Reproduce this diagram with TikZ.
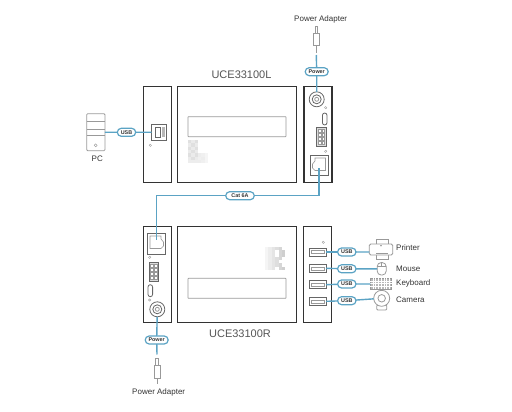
\documentclass[tikz,border=0pt]{standalone}
\usepackage{fontspec}
\setmainfont{Liberation Sans}
\usetikzlibrary{positioning, shapes.misc}

\begin{document}
\begin{tikzpicture}[
  x=1pt, y=-1pt,
  panel/.style={draw=cdark, line width=1.1pt, inner sep=0pt, outer sep=0pt},
  part/.style={draw=cpart, line width=0.8pt, fill=white, inner sep=0pt, outer sep=0pt},
  dev/.style={draw=cgrey, line width=0.8pt, fill=white, inner sep=0pt, outer sep=0pt},
  led/.style={draw=cgrey, line width=0.4pt, circle, minimum size=2.4pt, inner sep=0pt},
  slot/.style={draw=cgrey, line width=0.7pt, rounded corners=0.5pt, minimum width=98pt,
               minimum height=20pt, inner sep=0pt},
  wire/.style={draw=cblue, line width=1.4pt},
  lead/.style={draw=cgrey, line width=0.8pt},
  pill/.style={rounded rectangle, draw=cblue, line width=1.2pt, fill=white, font=\fontsize{5.4}{5.4}\selectfont\bfseries,
               text=cdark, minimum height=8pt, inner sep=0pt, outer sep=0pt},
  lbl/.style={font=\fontsize{8}{9}\selectfont, text=cdark, inner sep=0pt},
  model/.style={font=\fontsize{11}{12}\selectfont, text=cmodel, inner sep=0pt},
]
\definecolor{cdark}{HTML}{333333}
\definecolor{cpart}{HTML}{666666}
\definecolor{cgrey}{HTML}{999999}
\definecolor{cblue}{HTML}{5BA3C4}
\definecolor{cmodel}{HTML}{555555}
\useasboundingbox (0,0) rectangle (512,412);
% upper unit
\node[panel, minimum width=28pt, minimum height=96pt] (lleft) at (157.3,134.2) {};
\node[panel, minimum width=119pt, minimum height=96pt] (lmid) at (237.2,134.2) {};
\node[panel, minimum width=28pt, minimum height=96pt] (lright) at (318,134.2) {};
\node[model] (lname) at (241.5,75) {UCE33100L};
\node[slot] (lslot) at (237,126.7) {};
\foreach \i/\j/\s in {0/0/12,1/0/8,2/0/12,0/1/8,1/1/12,2/1/8,0/2/12,1/2/8,2/2/12,
                      0/3/8,1/3/12,2/3/8,0/4/12,1/4/8,2/4/12,3/4/7,4/4/6,5/4/4,
                      0/5/8,1/5/12,2/5/8,3/5/6,4/5/7,5/5/4,0/6/7,1/6/7,2/6/7,3/6/7,4/6/6,5/6/4}
  \fill[black!\s] (188+3.3*\i,140+3.3*\j) rectangle ++(3.3,3.3);
\node[part, minimum width=15pt, minimum height=15.5pt] (usbb) at (159.2,132.2) {};
\draw[part] (155.5,127.5) rectangle (160.5,137);
\fill[cgrey!70] (161.5,127.5) rectangle (165,137);
\node[led] (lledl) at (150.3,145.3) {};
\node[part, circle, minimum size=15pt] (ljack) at (316.7,99.3) {};
\node[part, circle, minimum size=9pt] (ljackb) at (316.7,99.3) {};
\node[part, circle, minimum size=4pt, draw=cgrey] (ljackc) at (316.7,99.3) {};
\node[led] (lleda) at (325.7,107.7) {};
\node[part, rounded rectangle, rotate=90, minimum width=12pt, minimum height=4.6pt] (lsw) at (324.7,119) {};
\node[part, fill=cgrey!35, minimum width=10.4pt, minimum height=19pt] (lterm) at (321.5,137.2) {};
\foreach \i in {0,1} \foreach \j in {0,...,3}
  \draw[cgrey, fill=white, line width=0.4pt] (318+3.8*\i,129.5+4*\j) rectangle ++(2.8,3);
\node[led] (lledb) at (325.7,151.3) {};
\node[part, minimum width=18.3pt, minimum height=19.7pt] (lrj) at (319.2,165.2) {};
\draw[cgrey, line width=0.6pt] (325.5,158) -- (315,158) -- (315,161) -- (312.5,164) -- (312.5,168)
  -- (315,170.5) -- (325.5,170.5) -- cycle;
% lower unit
\node[panel, minimum width=28pt, minimum height=96pt] (rleft) at (157.3,274.7) {};
\node[panel, minimum width=119pt, minimum height=96pt] (rmid) at (237,274.7) {};
\node[panel, minimum width=28pt, minimum height=96pt] (rright) at (317.7,274.7) {};
\node[model] (rname) at (240,333.7) {UCE33100R};
\node[slot] (rslot) at (237,288.3) {};
\foreach \i/\j in {0/0,1/0,2/0,3/0,4/0,0/1,1/1,2/1,4/1,5/1,0/2,1/2,2/2,4/2,5/2,0/3,1/3,2/3,3/3,4/3,
                   0/4,1/4,2/4,3/4,0/5,1/5,2/5,3/5,4/5,0/6,1/6,2/6,4/6,5/6}
  \pgfmathtruncatemacro{\s}{4+3*\i}
  \fill[black!\s] (265+3.4*\i,246.7+3.33*\j) rectangle ++(3.4,3.33);
\node[part, minimum width=18.3pt, minimum height=20.7pt] (rrj) at (156.5,243.7) {};
\draw[cgrey, line width=0.6pt] (150,236) -- (161,236) -- (161,239) -- (163.5,242) -- (163.5,246)
  -- (161,248.5) -- (150,248.5) -- cycle;
\node[led] (rleda) at (149.7,257.3) {};
\node[part, fill=cgrey!35, minimum width=9.7pt, minimum height=19pt] (rterm) at (153.8,271.8) {};
\foreach \i in {0,1} \foreach \j in {0,...,3}
  \draw[cgrey, fill=white, line width=0.4pt] (150.2+3.8*\i,264+4*\j) rectangle ++(2.8,3);
\node[part, rounded rectangle, rotate=90, minimum width=12pt, minimum height=4.6pt] (rsw) at (150.3,290.7) {};
\node[led] (rledb) at (149.7,300) {};
\node[part, circle, minimum size=15pt] (rjack) at (157.3,309.3) {};
\node[part, circle, minimum size=9pt] (rjackb) at (157.3,309.3) {};
\node[part, circle, minimum size=4pt, draw=cgrey] (rjackc) at (157.3,309.3) {};
\node[led] (rledc) at (323.3,242.3) {};
\foreach \n/\y in {a/252,b/268.3,c/284.7,d/301.3}
  \node[part, minimum width=16.7pt, minimum height=8pt] (port\n) at (317.7,\y) {};
\foreach \y in {252,268.3,284.7,301.3}
  \draw[cgrey, line width=0.5pt] (311.5,\y-1.5) rectangle (324.5,\y+1.5);
% power adapters
\node[dev, minimum width=2.6pt, minimum height=6.5pt] (ltip) at (316.3,30) {};
\node[dev, minimum width=6pt, minimum height=12pt] (lplug) at (316.3,39.3) {};
\coordinate (lcord) at (316.3,53);
\node[lbl] (lpow) at (320.7,19.3) {Power Adapter};
\node[dev, minimum width=2.6pt, minimum height=7pt] (rtip) at (157,361.5) {};
\node[dev, minimum width=6pt, minimum height=13pt] (rplug) at (157,371.5) {};
\coordinate (rcord) at (157,384);
\node[lbl] (rpow) at (158.7,392.7) {Power Adapter};
% pc
\node[dev, rounded corners=1pt, minimum width=18.3pt, minimum height=37pt] (pc) at (95.8,132.2) {};
\draw[lead] (pc.west |- 0,121.7) -- (pc.east |- 0,121.7);
\draw[lead] (pc.west |- 0,129.3) -- (pc.east |- 0,129.3);
\draw[lead] (pc.west |- 0,135) -- (pc.east |- 0,135);
\node[led, minimum size=3pt] (pcled) at (95.7,145.3) {};
\node[lbl] (pcname) at (97.3,159) {PC};
% printer
\node[dev, minimum width=12pt, minimum height=6pt] (paper) at (382,242) {};
\node[dev, minimum width=12pt, minimum height=6pt] (tray) at (382,256) {};
\node[dev, rounded corners=1.5pt, minimum width=23.4pt, minimum height=11pt] (printer) at (381,249.5) {};
\fill[cdark] (381,245.8) circle (0.6pt);
\draw[cgrey, line width=1.2pt] (376,253.8) -- (388,253.8);
\node[lbl, anchor=west] (lprinter) at (396,248) {Printer};
% mouse
\node[dev, rounded corners=4pt, minimum width=9pt, minimum height=12.5pt] (mouse) at (381.7,268.8) {};
\draw[lead] (377.2,266.5) -- (386.2,266.5);
\draw[lead] (381.7,262.6) -- (381.7,266.5);
\node[lbl, anchor=west] (lmouse) at (396,268.5) {Mouse};
% keyboard
\node[dev, fill=cgrey!70, minimum width=21.4pt, minimum height=11.3pt] (keyboard) at (381,283.6) {};
\foreach \i in {1,...,7} \draw[white, line width=0.3pt] (370.3+2.67*\i,278) -- (370.3+2.67*\i,289.2);
\foreach \j in {1,2,3} \draw[white, line width=0.3pt] (370.3,278+2.8*\j) -- (391.7,278+2.8*\j);
\node[lbl, anchor=west] (lkeyboard) at (396,283) {Keyboard};
% camera
\node[dev, minimum width=10pt, minimum height=5pt, rounded corners=1pt] (cambase) at (381.7,307.5) {};
\node[dev, circle, minimum size=16pt] (camera) at (381.7,298.3) {};
\node[dev, circle, minimum size=7.5pt] (camlens) at (381.7,298.3) {};
\node[lbl, anchor=west] (lcamera) at (396,300) {Camera};
% cable labels
\node[pill, minimum width=23pt] (plow) at (316.7,71.7) {Power};
\node[pill, minimum width=23pt] (prow) at (156.7,340) {Power};
\node[pill, minimum width=18.4pt] (usbpc) at (126.5,132.3) {USB};
\node[pill, minimum width=28.6pt] (cat) at (240,195.7) {Cat 6A};
\node[pill, minimum width=18.4pt] (usba) at (346.8,252) {USB};
\node[pill, minimum width=18.4pt] (usbc) at (346.8,268.8) {USB};
\node[pill, minimum width=18.4pt] (usbd) at (346.8,284) {USB};
\node[pill, minimum width=18.4pt] (usbe) at (346.8,300.7) {USB};
\coordinate (catl) at (319,168);
\coordinate (catr) at (156.7,240);
\coordinate (lfeed) at (316.3,55);
\coordinate (rfeed) at (157,354.5);
\draw[lead] (lplug) -- (lcord);
\draw[lead] (rplug) -- (rcord);
\draw[wire] (lfeed) -- (plow);
\draw[wire] (plow) -- (ljack);
\draw[wire] (rjack) -- (prow);
\draw[wire] (prow) -- (rfeed);
\draw[wire] (pc) -- (usbpc);
\draw[wire] (usbpc) -- (usbb);
\draw[wire] (catl) |- (cat);
\draw[wire] (cat) -| (catr);
\draw[wire] (porta.east) -- (usba);
\draw[wire] (usba) -- (usba -| printer.west);
\draw[wire] (portb.east) -- (usbc);
\draw[wire] (usbc) -- (mouse);
\draw[wire] (portc.east) -- (usbd);
\draw[wire] (usbd) -- (usbd -| keyboard.west);
\draw[wire] (portd.east) -- (usbe);
\draw[wire] (usbe) -- (camera);
\end{tikzpicture}
\end{document}
